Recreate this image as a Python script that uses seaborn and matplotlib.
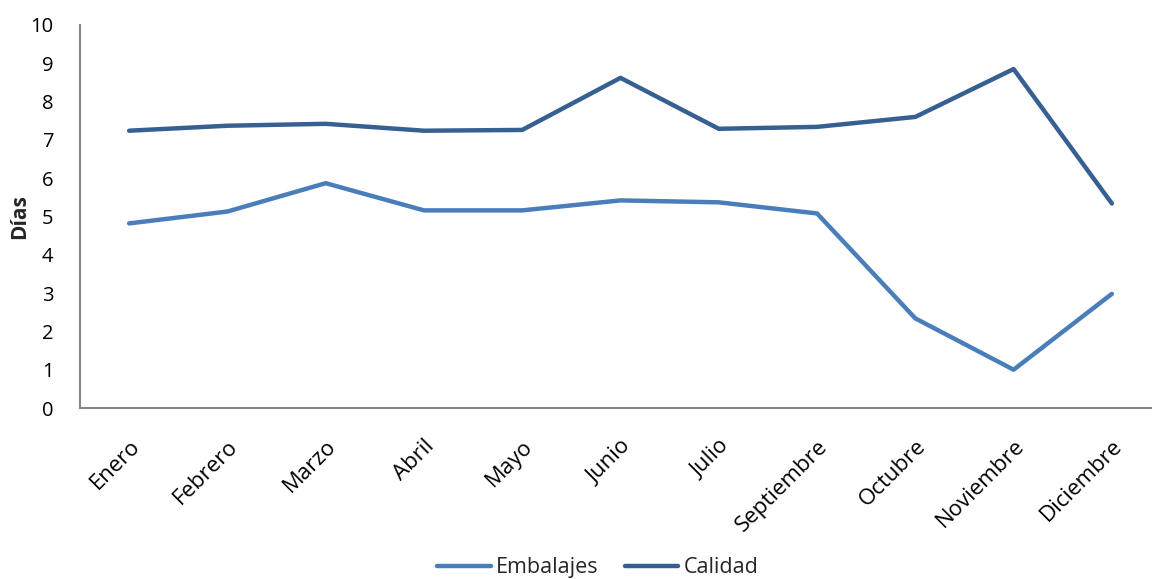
import matplotlib
matplotlib.use("Agg")
import matplotlib.pyplot as plt
import seaborn as sns
import pandas as pd
from matplotlib.lines import Line2D

meses = ["Enero", "Febrero", "Marzo", "Abril", "Mayo", "Junio", "Julio",
         "Septiembre", "Octubre", "Noviembre", "Diciembre"]
embalajes = [4.82, 5.13, 5.87, 5.16, 5.16, 5.42, 5.37, 5.08, 2.34, 1.0, 2.98]
calidad = [7.24, 7.37, 7.42, 7.24, 7.26, 8.62, 7.29, 7.34, 7.6, 8.85, 5.34]
y_ticks = list(range(0, 11))

sns.set_theme(style="white")
plt.rcParams['font.family'] = ['Open Sans', 'DejaVu Sans']

df = pd.DataFrame({
    "Mes": meses * 2,
    "Días": embalajes + calidad,
    "Serie": ["Embalajes"] * len(meses) + ["Calidad"] * len(meses),
})

fig = plt.figure(figsize=(11.52, 5.79), dpi=100)
ax = fig.add_axes([80/1152, 171/579, 1081/1152, 383/579])
sns.lineplot(data=df, x="Mes", y="Días", hue="Serie", sort=False,
             palette={"Embalajes": "#4A7EBB", "Calidad": "#376092"},
             linewidth=3.2, ax=ax, legend=False)
for ln in ax.lines:
    ln.set_solid_capstyle("round")
    ln.set_solid_joinstyle("round")

ax.set_xlim(-0.5, len(meses) - 0.5)
ax.set_ylim(0, 10)
ax.set_yticks(y_ticks)
ax.set_xticks(range(len(meses)))
ax.set_xticklabels(meses, rotation=45, ha="right", rotation_mode="anchor")
ax.tick_params(axis="both", length=0, colors="black")
ax.tick_params(axis="x", pad=20, labelsize=16)
ax.tick_params(axis="y", pad=19, labelsize=14.5)
ax.set_xlabel("")
ax.set_ylabel("Días", fontsize=15, fontweight="bold", labelpad=0)
for s in ["top", "right"]:
    ax.spines[s].set_visible(False)
for s in ["left", "bottom"]:
    ax.spines[s].set_color("#868686")
    ax.spines[s].set_linewidth(1.5)

handles = [Line2D([], [], color="#4A7EBB", lw=3.2, solid_capstyle="round"),
           Line2D([], [], color="#376092", lw=3.2, solid_capstyle="round")]
fig.legend(handles, ["Embalajes", "Calidad"], loc="lower center",
           bbox_to_anchor=(0.519, -0.032), ncol=2, frameon=False, fontsize=15.5,
           handlelength=2.5, handletextpad=0.25, columnspacing=1.2)

fig.savefig("out.png", dpi=100)
